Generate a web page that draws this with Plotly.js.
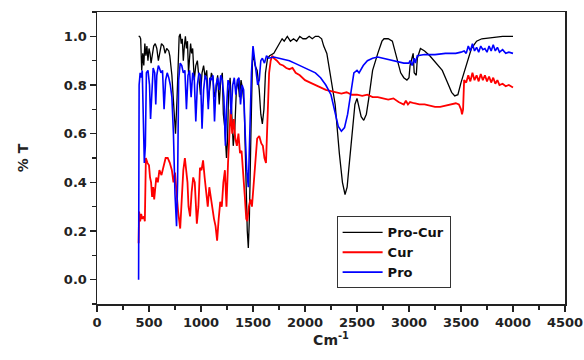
<!DOCTYPE html>
<html>
<head>
<meta charset="utf-8">
<script src="https://cdn.plot.ly/plotly-3.0.1.min.js"></script>
<style>html,body{margin:0;padding:0;background:#fff;}#chart{width:584px;height:360px;}</style>
</head>
<body>
<div id="chart"></div>
<script>
// Pro-Cur (black)
const proCurX = [400,410,420,430,440,450,460,470,480,490,500,510,520,530,545,560,575,590,600,620,640,655,670,690,700,720,740,755,770,790,800,810,820,830,840,850,860,870,880,890,900,910,920,935,950,965,980,995,1010,1025,1040,1055,1070,1085,1100,1115,1130,1145,1160,1175,1190,1205,1215,1230,1245,1255,1265,1280,1295,1310,1325,1340,1355,1370,1385,1400,1415,1430,1445,1455,1465,1480,1495,1505,1520,1540,1560,1575,1590,1605,1620,1640,1660,1700,1740,1780,1800,1830,1860,1890,1920,1950,1980,2010,2040,2070,2100,2130,2160,2180,2210,2240,2290,2330,2360,2385,2405,2420,2460,2480,2500,2520,2540,2565,2590,2615,2650,2700,2740,2760,2800,2840,2870,2920,2950,2980,3000,3010,3040,3050,3070,3080,3110,3150,3200,3260,3320,3370,3410,3440,3470,3500,3550,3600,3650,3700,3800,3900,4000];
const proCurY = [1.0,1.0,0.99,0.86,0.93,0.88,0.97,0.92,0.96,0.90,0.95,0.93,0.89,0.92,0.96,0.97,0.95,0.90,0.93,0.97,0.96,0.93,0.95,0.94,0.92,0.84,0.70,0.60,0.75,1.0,1.01,0.97,0.99,0.90,0.96,1.0,0.95,0.98,0.85,0.92,0.97,0.93,0.95,0.82,0.88,0.90,0.84,0.76,0.85,0.88,0.83,0.86,0.73,0.80,0.85,0.83,0.75,0.78,0.84,0.72,0.82,0.85,0.68,0.62,0.50,0.57,0.77,0.83,0.70,0.55,0.62,0.78,0.82,0.75,0.82,0.78,0.72,0.45,0.20,0.13,0.25,0.60,0.90,0.92,0.88,0.86,0.78,0.68,0.64,0.70,0.85,0.91,0.92,0.93,0.96,0.99,0.98,1.0,0.98,0.99,0.98,1.0,0.99,0.99,1.0,0.99,1.0,1.0,0.99,0.96,0.93,0.85,0.72,0.52,0.40,0.35,0.38,0.45,0.65,0.72,0.745,0.70,0.67,0.655,0.68,0.75,0.86,0.93,0.98,0.99,0.99,0.98,0.93,0.85,0.83,0.82,0.83,0.88,0.93,0.85,0.84,0.91,0.95,0.94,0.92,0.89,0.86,0.81,0.77,0.755,0.76,0.81,0.88,0.95,0.98,0.99,0.995,1.0,1.0];

// Cur (red)
const curX = [400,405,415,425,435,450,460,470,485,500,510,520,530,540,550,560,570,585,600,620,640,660,680,700,720,735,750,765,780,800,815,830,845,855,870,880,895,910,925,940,960,975,990,1005,1020,1035,1050,1065,1080,1095,1110,1125,1140,1155,1170,1185,1200,1215,1230,1245,1260,1275,1285,1300,1315,1330,1345,1360,1375,1390,1405,1420,1435,1445,1460,1475,1490,1505,1520,1540,1560,1580,1595,1610,1625,1640,1655,1670,1685,1700,1730,1760,1790,1820,1850,1880,1910,1950,2000,2050,2100,2150,2200,2250,2300,2350,2400,2450,2500,2550,2600,2650,2700,2750,2800,2850,2900,2950,2970,2990,3010,3050,3100,3150,3200,3250,3300,3350,3400,3450,3480,3500,3510,3520,3530,3550,3570,3590,3610,3630,3650,3670,3690,3710,3730,3750,3770,3790,3810,3830,3850,3870,3900,3930,3960,4000];
const curY = [0.15,0.28,0.24,0.27,0.25,0.26,0.24,0.50,0.48,0.47,0.42,0.40,0.34,0.38,0.33,0.37,0.42,0.40,0.45,0.43,0.47,0.50,0.50,0.48,0.45,0.40,0.44,0.35,0.28,0.21,0.35,0.45,0.50,0.46,0.40,0.30,0.26,0.36,0.42,0.40,0.23,0.30,0.46,0.45,0.49,0.42,0.35,0.30,0.38,0.33,0.28,0.25,0.22,0.16,0.25,0.32,0.30,0.40,0.45,0.30,0.48,0.65,0.70,0.60,0.66,0.58,0.55,0.60,0.52,0.53,0.45,0.35,0.25,0.24,0.30,0.33,0.30,0.38,0.45,0.58,0.59,0.56,0.55,0.50,0.48,0.70,0.85,0.90,0.92,0.91,0.90,0.885,0.88,0.87,0.865,0.87,0.85,0.84,0.82,0.81,0.80,0.79,0.78,0.775,0.77,0.765,0.77,0.76,0.76,0.755,0.76,0.75,0.75,0.745,0.74,0.745,0.73,0.72,0.735,0.72,0.73,0.725,0.72,0.72,0.715,0.71,0.71,0.715,0.72,0.725,0.72,0.70,0.68,0.70,0.82,0.81,0.84,0.815,0.85,0.82,0.84,0.815,0.845,0.82,0.84,0.815,0.835,0.81,0.83,0.805,0.82,0.80,0.805,0.795,0.80,0.79];

// Pro (blue)
const proX = [400,405,415,425,435,445,455,465,475,490,505,515,525,540,555,565,575,590,600,615,630,645,660,675,690,705,720,735,750,765,775,785,800,815,830,845,860,875,890,905,920,935,950,965,980,995,1010,1025,1040,1055,1070,1085,1100,1115,1130,1145,1160,1175,1190,1205,1220,1235,1245,1260,1275,1290,1305,1320,1335,1350,1365,1380,1395,1410,1425,1440,1455,1470,1485,1500,1515,1530,1545,1560,1575,1590,1610,1630,1650,1700,1750,1800,1850,1900,1950,2000,2050,2100,2150,2200,2250,2280,2320,2350,2380,2410,2440,2470,2500,2520,2560,2600,2650,2700,2750,2800,2850,2900,2950,3000,3010,3030,3050,3060,3080,3150,3250,3350,3450,3500,3530,3550,3570,3590,3610,3630,3650,3670,3690,3710,3730,3750,3770,3790,3810,3830,3850,3870,3900,3930,3960,4000];
const proY = [0.0,0.80,0.85,0.83,0.86,0.60,0.48,0.55,0.85,0.86,0.80,0.66,0.75,0.87,0.85,0.72,0.84,0.88,0.87,0.85,0.86,0.70,0.82,0.85,0.83,0.80,0.75,0.60,0.35,0.22,0.40,0.82,0.89,0.88,0.85,0.86,0.70,0.84,0.86,0.75,0.85,0.83,0.65,0.80,0.85,0.84,0.62,0.78,0.84,0.82,0.70,0.83,0.82,0.84,0.65,0.80,0.83,0.78,0.84,0.82,0.75,0.55,0.70,0.82,0.80,0.68,0.80,0.83,0.76,0.82,0.83,0.72,0.80,0.78,0.60,0.45,0.38,0.60,0.85,0.96,0.90,0.86,0.80,0.82,0.90,0.91,0.89,0.92,0.91,0.915,0.91,0.905,0.90,0.89,0.88,0.87,0.86,0.85,0.83,0.80,0.76,0.70,0.63,0.61,0.625,0.68,0.77,0.85,0.86,0.85,0.88,0.90,0.91,0.915,0.91,0.905,0.90,0.895,0.89,0.89,0.90,0.88,0.91,0.89,0.92,0.925,0.925,0.93,0.93,0.935,0.94,0.93,0.96,0.94,0.97,0.94,0.955,0.935,0.96,0.945,0.95,0.935,0.96,0.94,0.965,0.94,0.955,0.935,0.945,0.93,0.935,0.93];

const xTicks = [0,500,1000,1500,2000,2500,3000,3500,4000,4500];
const yTicks = [0.0,0.2,0.4,0.6,0.8,1.0];
const yTickText = ['0.0','0.2','0.4','0.6','0.8','1.0'];

const traces = [
  {x: proCurX, y: proCurY, name: 'Pro-Cur', mode: 'lines', line: {color: '#000000', width: 1.3}},
  {x: curX, y: curY, name: 'Cur', mode: 'lines', line: {color: '#ff0000', width: 1.8}},
  {x: proX, y: proY, name: 'Pro', mode: 'lines', line: {color: '#0000ff', width: 1.6}}
];

const axisFont = {family: 'DejaVu Sans', size: 13, color: '#222'};
const layout = {
  width: 584, height: 360,
  margin: {l: 97, r: 19, t: 12, b: 56},
  paper_bgcolor: '#fff', plot_bgcolor: '#fff',
  showlegend: true,
  legend: {
    x: 0.512, y: 0.30, xanchor: 'left', yanchor: 'top',
    bordercolor: '#333', borderwidth: 1, bgcolor: '#fff',
    font: {family: 'DejaVu Sans', size: 13, color: '#111', weight: 'bold'},
    tracegroupgap: 0, itemwidth: 40
  },
  xaxis: {
    range: [0, 4500], tickvals: xTicks, ticktext: xTicks.map(String),
    ticks: 'outside', ticklen: 6, tickwidth: 1.5, tickcolor: '#222',
    minor: {dtick: 250, ticks: 'outside', ticklen: 4, tickwidth: 1.2, tickcolor: '#222'},
    showline: true, linecolor: '#222', linewidth: 1.5, mirror: true,
    showgrid: false, zeroline: false,
    tickfont: Object.assign({weight: 'bold'}, axisFont),
    title: {text: 'Cm<sup>-1</sup>', font: {family: 'DejaVu Sans', size: 14, color: '#222', weight: 'bold'}, standoff: 2}
  },
  yaxis: {
    range: [-0.1, 1.1], tickvals: yTicks, ticktext: yTickText,
    ticks: 'outside', ticklen: 6, tickwidth: 1.5, tickcolor: '#222',
    minor: {dtick: 0.1, tick0: 0, ticks: 'outside', ticklen: 4, tickwidth: 1.2, tickcolor: '#222'},
    showline: true, linecolor: '#222', linewidth: 1.5, mirror: true,
    showgrid: false, zeroline: false,
    tickfont: Object.assign({weight: 'bold'}, axisFont),
    title: {text: '% T', font: {family: 'DejaVu Sans', size: 14, color: '#222', weight: 'bold'}, standoff: 32}
  }
};

Plotly.newPlot('chart', traces, layout, {displayModeBar: false, staticPlot: true});
</script>
</body>
</html>
